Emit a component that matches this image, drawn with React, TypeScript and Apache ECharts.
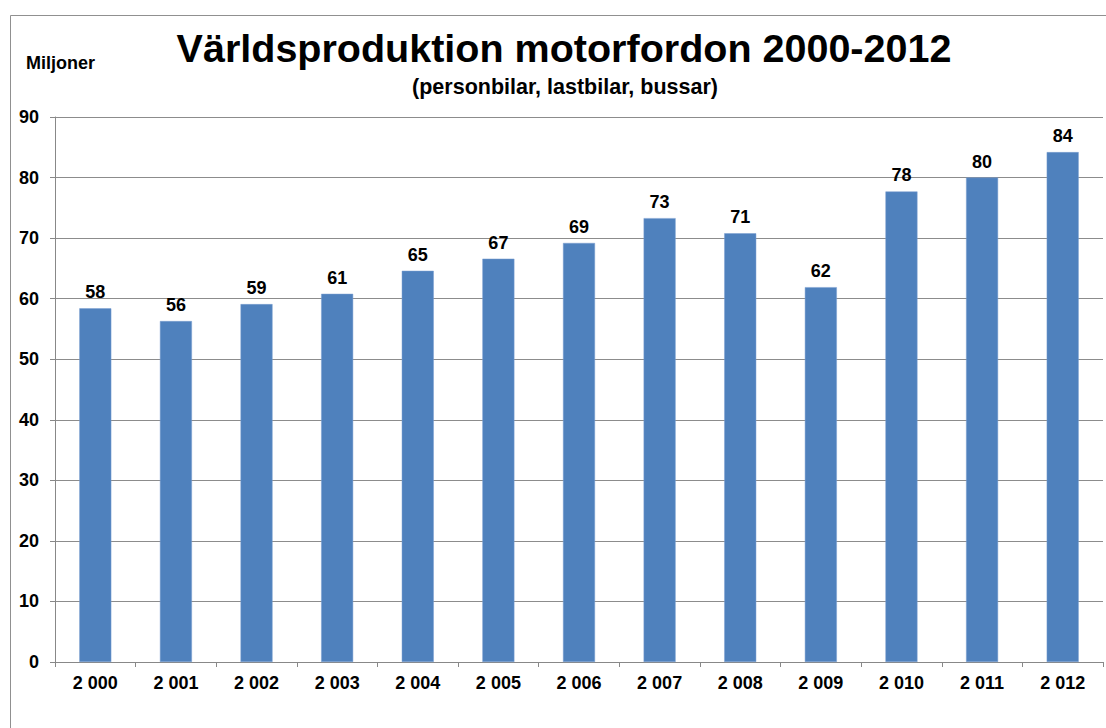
import React, { useEffect, useRef } from "react";
import * as echarts from "echarts";

const years: string[] = ["2 000", "2 001", "2 002", "2 003", "2 004", "2 005", "2 006", "2 007", "2 008", "2 009", "2 010", "2 011", "2 012"];
const production: number[] = [58.4, 56.3, 59.1, 60.8, 64.6, 66.6, 69.2, 73.3, 70.8, 61.9, 77.7, 80.0, 84.2];
const yTicks = { min: 0, max: 90, interval: 10 };

const FONT = "Arial, 'Liberation Sans', sans-serif";

export default function App() {
  const ref = useRef<HTMLDivElement>(null);
  useEffect(() => {
    if (!ref.current) return;
    const chart = echarts.init(ref.current, null, { renderer: "svg" });
    chart.setOption({
      animation: false,
      backgroundColor: "#ffffff",
      title: [
        {
          text: "Världsproduktion motorfordon 2000-2012",
          left: 564,
          top: 28,
          padding: 0,
          textAlign: "center",
          textStyle: { fontFamily: FONT, fontSize: 39.5, fontWeight: "bold", color: "#000" },
        },
        {
          text: "(personbilar, lastbilar, bussar)",
          left: 565,
          top: 76,
          padding: 0,
          textAlign: "center",
          textStyle: { fontFamily: FONT, fontSize: 21.5, fontWeight: "bold", color: "#000" },
        },
        {
          text: "Miljoner",
          left: 26,
          top: 54,
          padding: 0,
          textStyle: { fontFamily: FONT, fontSize: 18, fontWeight: "bold", color: "#000" },
        },
      ],
      graphic: [
        {
          type: "rect",
          shape: { x: 10.5, y: 15.5, width: 1200, height: 800 },
          style: { fill: "none", stroke: "#909090", lineWidth: 1 },
          silent: true,
        },
      ],
      grid: { left: 55, right: 3, top: 117, bottom: 66, containLabel: false },
      xAxis: {
        type: "category",
        data: years,
        boundaryGap: true,
        axisLine: { show: true, lineStyle: { color: "#888888", width: 1 } },
        axisTick: { show: true, alignWithLabel: false, length: 5, lineStyle: { color: "#888888" } },
        axisLabel: { fontFamily: FONT, fontSize: 18, fontWeight: "bold", color: "#000", margin: 12, interval: 0 },
        splitLine: { show: false },
      },
      yAxis: {
        type: "value",
        min: yTicks.min,
        max: yTicks.max,
        interval: yTicks.interval,
        axisLine: { show: true, lineStyle: { color: "#888888", width: 1 } },
        axisTick: { show: true, length: 5, lineStyle: { color: "#888888" } },
        axisLabel: { fontFamily: FONT, fontSize: 18, fontWeight: "bold", color: "#000", margin: 16 },
        splitLine: { show: true, lineStyle: { color: "#8c8c8c", width: 1 } },
      },
      series: [
        {
          type: "bar",
          data: production,
          barWidth: 32,
          itemStyle: { color: "#4F81BD", borderColor: "#7A9FD0", borderWidth: 0.5 },
          label: {
            show: true,
            position: "top",
            distance: 7,
            formatter: (p: any) => String(Math.round(p.value)),
            fontFamily: FONT,
            fontSize: 18,
            fontWeight: "bold",
            color: "#000",
          },
        },
      ],
    });
    return () => chart.dispose();
  }, []);
  return (
    <div
      ref={ref}
      style={{ position: "absolute", left: 0, top: 0, width: 1106, height: 728 }}
    />
  );
}
